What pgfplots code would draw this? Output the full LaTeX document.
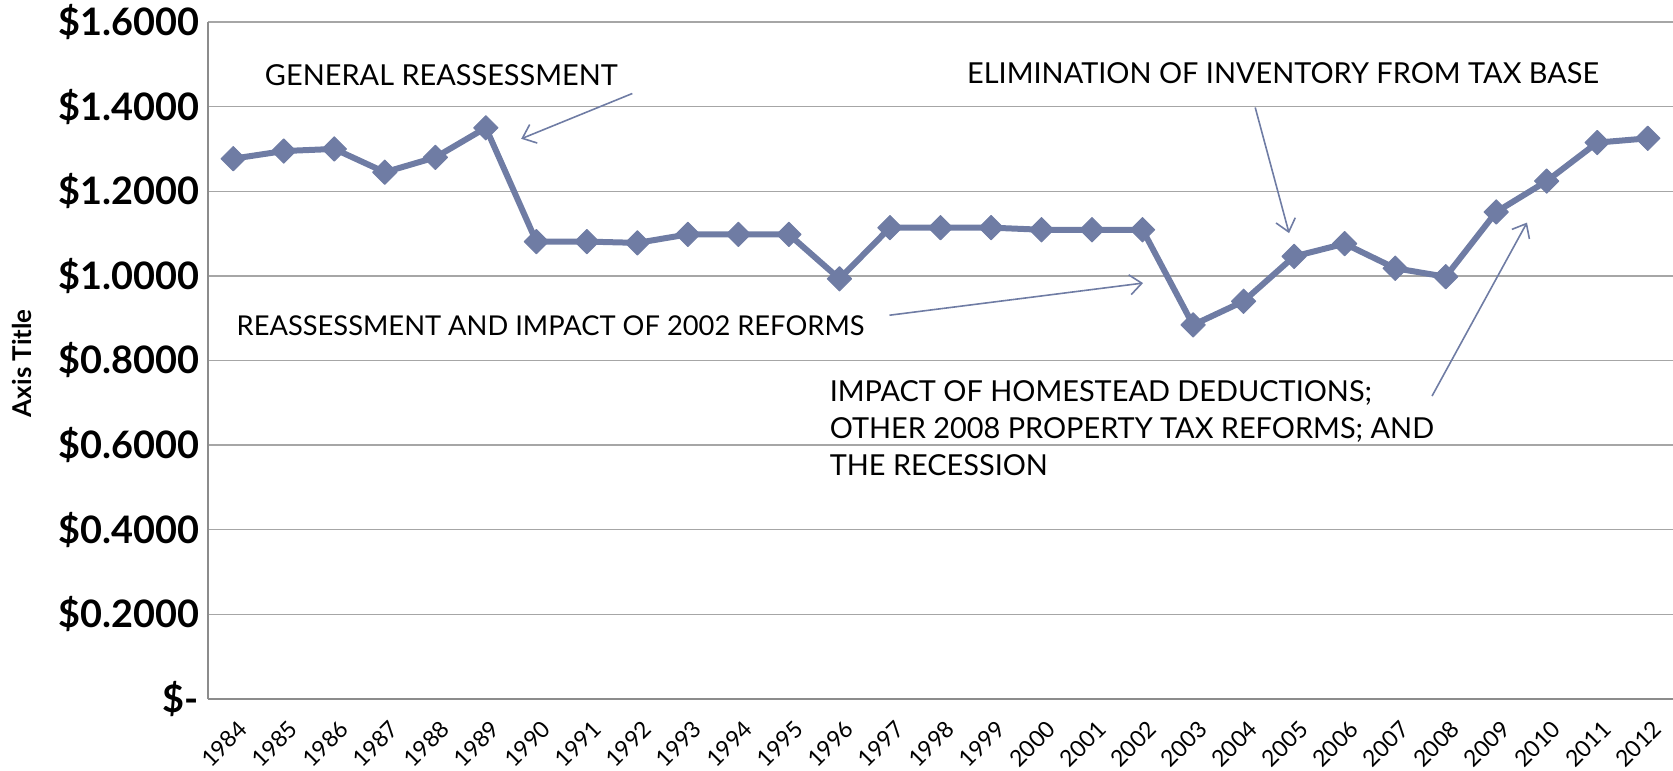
\documentclass[border=0pt]{standalone}
\usepackage{fontspec}
\setmainfont{Lato}
\usepackage{pgfplots}
\pgfplotsset{compat=1.18}
\usetikzlibrary{arrows.meta,calc}
\definecolor{linec}{HTML}{6F7CA4}
\definecolor{gridc}{HTML}{A6A6A6}
\definecolor{axc}{HTML}{8C8C8C}
\begin{document}
\begin{tikzpicture}
\begin{axis}[
  name=ax,
  scale only axis,
  width=732.5bp, height=338.5bp,
  xmin=1983.5, xmax=2012.5,
  ymin=0, ymax=1.6,
  clip=false,
  axis x line=bottom, axis y line=left,
  axis line style={axc, line width=0.8bp, -},
  xtick={1984,...,2012},
  xticklabels={1984,1985,1986,1987,1988,1989,1990,1991,1992,1993,1994,1995,1996,1997,1998,1999,2000,2001,2002,2003,2004,2005,2006,2007,2008,2009,2010,2011,2012},
  ytick={0,0.2,0.4,0.6,0.8,1.0,1.2,1.4,1.6},
  yticklabels={\$-,\$0.2000,\$0.4000,\$0.6000,\$0.8000,\$1.0000,\$1.2000,\$1.4000,\$1.6000},
  major tick length=0pt,
  ymajorgrids,
  grid style={gridc, line width=0.7bp},
  yticklabel style={font=\fontsize{19}{21}\selectfont\bfseries, anchor=east, xshift=-1bp},
  xticklabel style={font=\fontsize{11.5}{13}\selectfont, inner sep=0pt, xshift=5bp, yshift=-13bp, rotate=45, anchor=east},
]
\addplot[linec, line width=3bp, line join=round, mark=square*, mark size=4.3bp,
  mark options={rotate=45, fill=linec, draw=linec, line width=0.5bp}] coordinates {
(1984,1.277) (1985,1.295) (1986,1.300) (1987,1.245) (1988,1.280) (1989,1.350)
(1990,1.081) (1991,1.081) (1992,1.078) (1993,1.098) (1994,1.098) (1995,1.098)
(1996,0.993) (1997,1.114) (1998,1.114) (1999,1.114) (2000,1.109) (2001,1.109)
(2002,1.109) (2003,0.884) (2004,0.940) (2005,1.046) (2006,1.076) (2007,1.018)
(2008,0.998) (2009,1.151) (2010,1.224) (2011,1.315) (2012,1.325)
};
\tikzset{ann/.style={font=\fontsize{14.5}{16}\selectfont, inner sep=0pt}}
\node[ann, anchor=base] at (axis cs:1988.12,1.450) {GENERAL REASSESSMENT};
\node[ann, anchor=base] at (axis cs:2004.78,1.454) {ELIMINATION OF INVENTORY FROM TAX BASE};
\node[ann, anchor=base west, font=\fontsize{13.7}{16}\selectfont] at (axis cs:1984.06,0.859) {REASSESSMENT AND IMPACT OF 2002 REFORMS};
\node[ann, anchor=base west] at (axis cs:1995.80,0.703) {IMPACT OF HOMESTEAD DEDUCTIONS;};
\node[ann, anchor=base west] at (axis cs:1995.80,0.616) {OTHER 2008 PROPERTY TAX REFORMS; AND};
\node[ann, anchor=base west] at (axis cs:1995.80,0.529) {THE RECESSION};
\tikzset{arr/.style={linec, line width=0.8bp, -{Straight Barb[length=6bp,width=10bp]}}}
\draw[arr] (axis cs:1991.90,1.431) -- (axis cs:1989.70,1.324);
\draw[arr] (axis cs:2004.23,1.398) -- (axis cs:2004.90,1.101);
\draw[arr] (axis cs:1996.99,0.907) -- (axis cs:2002.01,0.983);
\draw[arr] (axis cs:2007.73,0.716) -- (axis cs:2009.61,1.126);
\node[font=\fontsize{13}{15}\selectfont\bfseries, rotate=90, anchor=center, inner sep=0pt]
  at ([xshift=-93bp]rel axis cs:0,0.496) {Axis Title};
\end{axis}
\pgfresetboundingbox
\path ($(ax.south west)+(-104bp,-36bp)$) rectangle ($(ax.north east)+(0bp,11bp)$);
\end{tikzpicture}
\end{document}
